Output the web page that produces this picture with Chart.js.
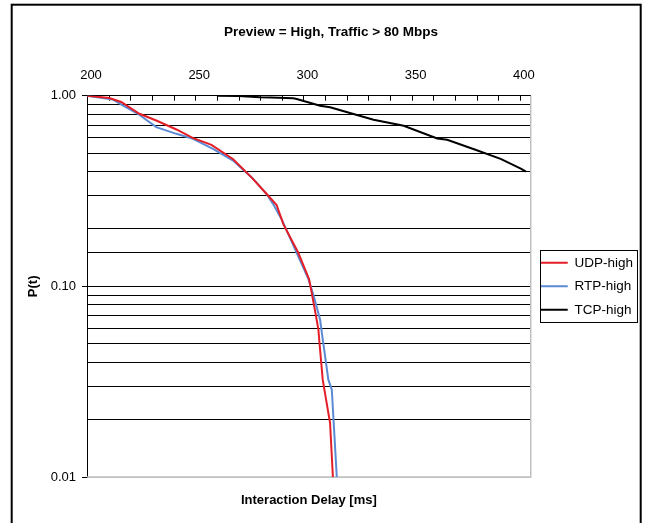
<!DOCTYPE html>
<html>
<head>
<meta charset="utf-8">
<script src="https://cdn.jsdelivr.net/npm/chart.js@4.4.1/dist/chart.umd.min.js"></script>
<style>
  html, body { margin: 0; padding: 0; background: #fff; }
  #wrap { width: 646px; height: 523px; }
</style>
</head>
<body>
<div id="wrap"><canvas id="delayChart"></canvas></div>
<script>
// values (x = delay in ms, y = P(t))
const udpDelay = [200, 210.3, 215.8, 224.2, 232.0, 241.3, 248.8, 257.5, 267.4, 276.0, 283.0, 287.6, 290.7, 297.6, 302.6, 303.8, 305.8, 306.9, 307.4, 308.9, 312.3, 313.6];
const udpProb  = [1.0, 0.972, 0.927, 0.804, 0.741, 0.665, 0.601, 0.552, 0.466, 0.373, 0.305, 0.267, 0.212, 0.150, 0.109, 0.0927, 0.0698, 0.0594, 0.0506, 0.0324, 0.0192, 0.01];

const rtpDelay = [200, 211.9, 216.5, 223.5, 232.0, 241.3, 249.0, 258.2, 267.5, 276.8, 283.0, 286.0, 289.9, 302.3, 304.6, 307.7, 308.5, 311.5, 313.1, 315.4];
const rtpProb  = [1.0, 0.956, 0.889, 0.804, 0.684, 0.631, 0.594, 0.526, 0.457, 0.366, 0.305, 0.270, 0.225, 0.109, 0.0901, 0.0668, 0.057, 0.0324, 0.0287, 0.01];

const tcpDelay = [260, 270, 279.9, 285, 295.3, 296.9, 307.7, 312.3, 323.1, 332.4, 346.3, 361.8, 366.4, 378.8, 391.1, 400.4, 402.8];
const tcpProb  = [1.0, 0.995, 0.981, 0.978, 0.969, 0.961, 0.886, 0.869, 0.801, 0.748, 0.695, 0.597, 0.587, 0.524, 0.466, 0.415, 0.40];

const seriesNames = ['UDP-high', 'RTP-high', 'TCP-high'];
const seriesColors = ['#e41e26', '#5b8ad4', '#000000'];

// x axis: minor ticks every 10 ms, labels every 50 ms
const xTickFirst = 200, xTickLast = 400, xTickStep = 10, xLabelStep = 50;

const FONT = '"Liberation Sans", Arial, sans-serif';

function toPoints(xs, ys) {
    return xs.map((x, i) => ({ x: x, y: ys[i] }));
}

function isMajor(v) {
    const l = Math.log10(v);
    return Math.abs(l - Math.round(l)) < 1e-6;
}

// outer frame, gray plot edges, inward x ticks, legend box
const framePlugin = {
    id: 'frame',
    beforeDraw(chart) {
        const ctx = chart.ctx;
        ctx.save();
        ctx.fillStyle = '#fff';
        ctx.fillRect(0, 0, chart.width, chart.height);
        ctx.strokeStyle = '#000';
        ctx.lineWidth = 2;
        ctx.strokeRect(11.7, 4.7, 629, 540);
        ctx.restore();
    },
    beforeDatasetsDraw(chart) {
        const ctx = chart.ctx;
        const a = chart.chartArea;
        ctx.save();
        ctx.strokeStyle = '#c0c0c0';
        ctx.lineWidth = 1.5;
        ctx.beginPath();
        ctx.moveTo(a.left, a.bottom);
        ctx.lineTo(a.right, a.bottom);
        ctx.lineTo(a.right, a.top);
        ctx.stroke();
        const xs = chart.scales.x;
        ctx.strokeStyle = '#000';
        ctx.lineWidth = 1;
        xs.ticks.forEach(t => {
            const px = Math.round(xs.getPixelForValue(t.value)) + 0.5;
            ctx.beginPath();
            ctx.moveTo(px, a.top);
            ctx.lineTo(px, a.top + 5);
            ctx.stroke();
        });
        ctx.restore();
    },
    afterDraw(chart) {
        const boxes = chart.legend && chart.legend.legendHitBoxes;
        if (!boxes || !boxes.length) return;
        const ctx = chart.ctx;
        let l = Infinity, r = -Infinity, t = Infinity, b = -Infinity;
        boxes.forEach(h => {
            l = Math.min(l, h.left); r = Math.max(r, h.left + h.width);
            t = Math.min(t, h.top); b = Math.max(b, h.top + h.height);
        });
        ctx.save();
        ctx.strokeStyle = '#000';
        ctx.lineWidth = 1;
        ctx.strokeRect(Math.round(l - 1) + 0.5, Math.round(t - 6) + 0.5, Math.round(r - l + 5), Math.round(b - t + 11));
        ctx.restore();
    }
};

const ctx = document.getElementById('delayChart').getContext('2d');
new Chart(ctx, {
    type: 'line',
    data: {
        datasets: [
            { label: seriesNames[0], data: toPoints(udpDelay, udpProb), borderColor: seriesColors[0], backgroundColor: seriesColors[0] },
            { label: seriesNames[1], data: toPoints(rtpDelay, rtpProb), borderColor: seriesColors[1], backgroundColor: seriesColors[1] },
            { label: seriesNames[2], data: toPoints(tcpDelay, tcpProb), borderColor: seriesColors[2], backgroundColor: seriesColors[2] }
        ].map(d => Object.assign(d, { borderWidth: 2, pointRadius: 0, tension: 0, fill: false, xAxisID: 'x', yAxisID: 'y' }))
    },
    options: {
        responsive: true,
        maintainAspectRatio: false,
        animation: false,
        layout: { padding: { top: 8, left: 19, right: 3, bottom: 0 } },
        plugins: {
            title: {
                display: true,
                text: 'Preview = High, Traffic > 80 Mbps',
                color: '#000',
                font: { family: FONT, size: 13.5, weight: 'bold' },
                padding: { top: 16, bottom: 8 }
            },
            legend: {
                position: 'right',
                fullSize: false,
                labels: {
                    color: '#000',
                    font: { family: FONT, size: 13.5 },
                    usePointStyle: true,
                    pointStyle: 'line',
                    pointStyleWidth: 27,
                    padding: 10
                }
            },
            tooltip: { enabled: false }
        },
        scales: {
            x: {
                type: 'linear',
                position: 'top',
                min: 200,
                max: 405,
                afterBuildTicks: s => {
                    const t = [];
                    for (let v = xTickFirst; v <= xTickLast; v += xTickStep) t.push({ value: v });
                    s.ticks = t;
                },
                afterFit: s => { s.height = 47.5; },
                ticks: {
                    autoSkip: false,
                    maxRotation: 0,
                    padding: 12,
                    labelOffset: 4,
                    color: '#000',
                    font: { family: FONT, size: 13 },
                    callback: v => (v % xLabelStep === 0 ? String(v) : '')
                },
                grid: { display: false, drawTicks: false },
                border: { display: true, color: '#000', width: 1 }
            },
            x2: {
                type: 'linear',
                position: 'bottom',
                min: 200,
                max: 405,
                afterFit: s => { s.height = 46; },
                ticks: { display: false },
                grid: { display: false, drawTicks: false },
                border: { display: false },
                title: {
                    display: true,
                    text: 'Interaction Delay [ms]',
                    color: '#000',
                    font: { family: FONT, size: 13, weight: 'bold' },
                    padding: { top: 4, bottom: 15 }
                }
            },
            y: {
                type: 'logarithmic',
                min: 0.01,
                max: 1,
                afterFit: s => { s.width = 68; },
                ticks: {
                    autoSkip: false,
                    padding: 6,
                    color: '#000',
                    font: { family: FONT, size: 13 },
                    callback: v => (isMajor(v) ? Number(v).toFixed(2) : '')
                },
                grid: {
                    color: c => (c.tick && Math.abs(c.tick.value - 0.01) < 1e-9 ? '#c0c0c0' : '#000'),
                    tickColor: c => (c.tick && isMajor(c.tick.value) ? '#000' : 'rgba(0,0,0,0)'),
                    tickLength: 5,
                    lineWidth: 1
                },
                border: { display: true, color: '#000', width: 1 },
                title: {
                    display: true,
                    text: 'P(t)',
                    color: '#000',
                    font: { family: FONT, size: 13, weight: 'bold' },
                    padding: { top: 7, bottom: 4 }
                }
            }
        }
    },
    plugins: [framePlugin]
});
</script>
</body>
</html>
